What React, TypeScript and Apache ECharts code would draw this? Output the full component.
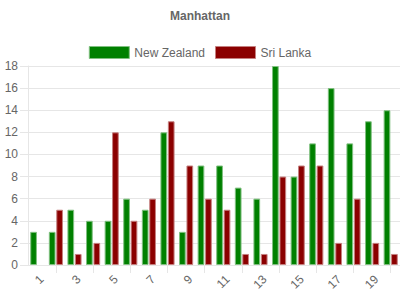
import React, { useEffect, useRef } from "react";
import * as echarts from "echarts";

const categories = ["1","2","3","4","5","6","7","8","9","10","11","12","13","14","15","16","17","18","19","20"];
const newZealand = [3, 3, 5, 4, 4, 6, 5, 12, 3, 9, 9, 7, 6, 18, 8, 11, 16, 11, 13, 14];
const sriLanka = [0, 5, 1, 2, 12, 4, 6, 13, 9, 6, 5, 1, 1, 8, 9, 9, 2, 6, 2, 1];

const FONT = "'Liberation Sans', Arial, Helvetica, sans-serif";
const NZ_FILL = "#008000";
const NZ_BORDER = "#80c080";
const SL_FILL = "#8b0000";
const SL_BORDER = "#c58080";

const toBarData = (arr: number[]) =>
  arr.map((v) => (v === 0 ? { value: v, itemStyle: { borderWidth: 0, opacity: 0 } } : v));

export default function App() {
  const ref = useRef<HTMLDivElement>(null);
  useEffect(() => {
    if (!ref.current) return;
    const chart = echarts.init(ref.current, undefined, { renderer: "svg" });
    chart.setOption({
      animation: false,
      backgroundColor: "#ffffff",
      textStyle: { fontFamily: FONT },
      title: {
        text: "Manhattan",
        left: "center",
        top: 5,
        textStyle: { fontFamily: FONT, fontSize: 12, fontWeight: "bold", color: "#666666" },
      },
      legend: {
        top: 41,
        left: "center",
        icon: "rect",
        itemWidth: 40,
        itemHeight: 12,
        itemGap: 10,
        textStyle: { fontFamily: FONT, fontSize: 12, color: "#666666" },
        data: [
          { name: "New Zealand", itemStyle: { color: NZ_FILL, borderColor: NZ_BORDER, borderWidth: 1 } },
          { name: "Sri Lanka", itemStyle: { color: SL_FILL, borderColor: SL_BORDER, borderWidth: 1 } },
        ],
      },
      grid: { left: 28, right: 0, top: 66, bottom: 35, containLabel: false },
      xAxis: {
        type: "category",
        data: categories,
        boundaryGap: true,
        axisLine: { show: true, lineStyle: { color: "#e6e6e6", width: 1 } },
        axisTick: {
          show: true,
          alignWithLabel: true,
          length: 8,
          interval: (i: number) => i % 2 === 1,
          lineStyle: { color: "#e6e6e6" },
        },
        axisLabel: {
          interval: 1,
          rotate: 45,
          margin: 8,
          verticalAlign: "top",
          fontFamily: FONT,
          fontSize: 12,
          color: "#666666",
        },
        splitLine: { show: false },
      },
      yAxis: {
        type: "value",
        min: 0,
        max: 18,
        interval: 2,
        axisLine: { show: true, lineStyle: { color: "#e6e6e6" } },
        axisTick: { show: true, length: 8, lineStyle: { color: "#e6e6e6" } },
        axisLabel: { margin: 10, fontFamily: FONT, fontSize: 12, color: "#666666" },
        splitLine: { show: true, lineStyle: { color: "#e6e6e6" } },
      },
      series: [
        {
          name: "New Zealand",
          type: "bar",
          data: toBarData(newZealand),
          barWidth: 6.7,
          barGap: "11%",
          itemStyle: { color: NZ_FILL, borderColor: NZ_BORDER, borderWidth: 1 },
        },
        {
          name: "Sri Lanka",
          type: "bar",
          data: toBarData(sriLanka),
          barWidth: 6.7,
          barGap: "11%",
          itemStyle: { color: SL_FILL, borderColor: SL_BORDER, borderWidth: 1 },
        },
      ],
    });
    return () => chart.dispose();
  }, []);
  return <div ref={ref} style={{ width: 400, height: 300, position: "absolute", left: 0, top: 0 }} />;
}
